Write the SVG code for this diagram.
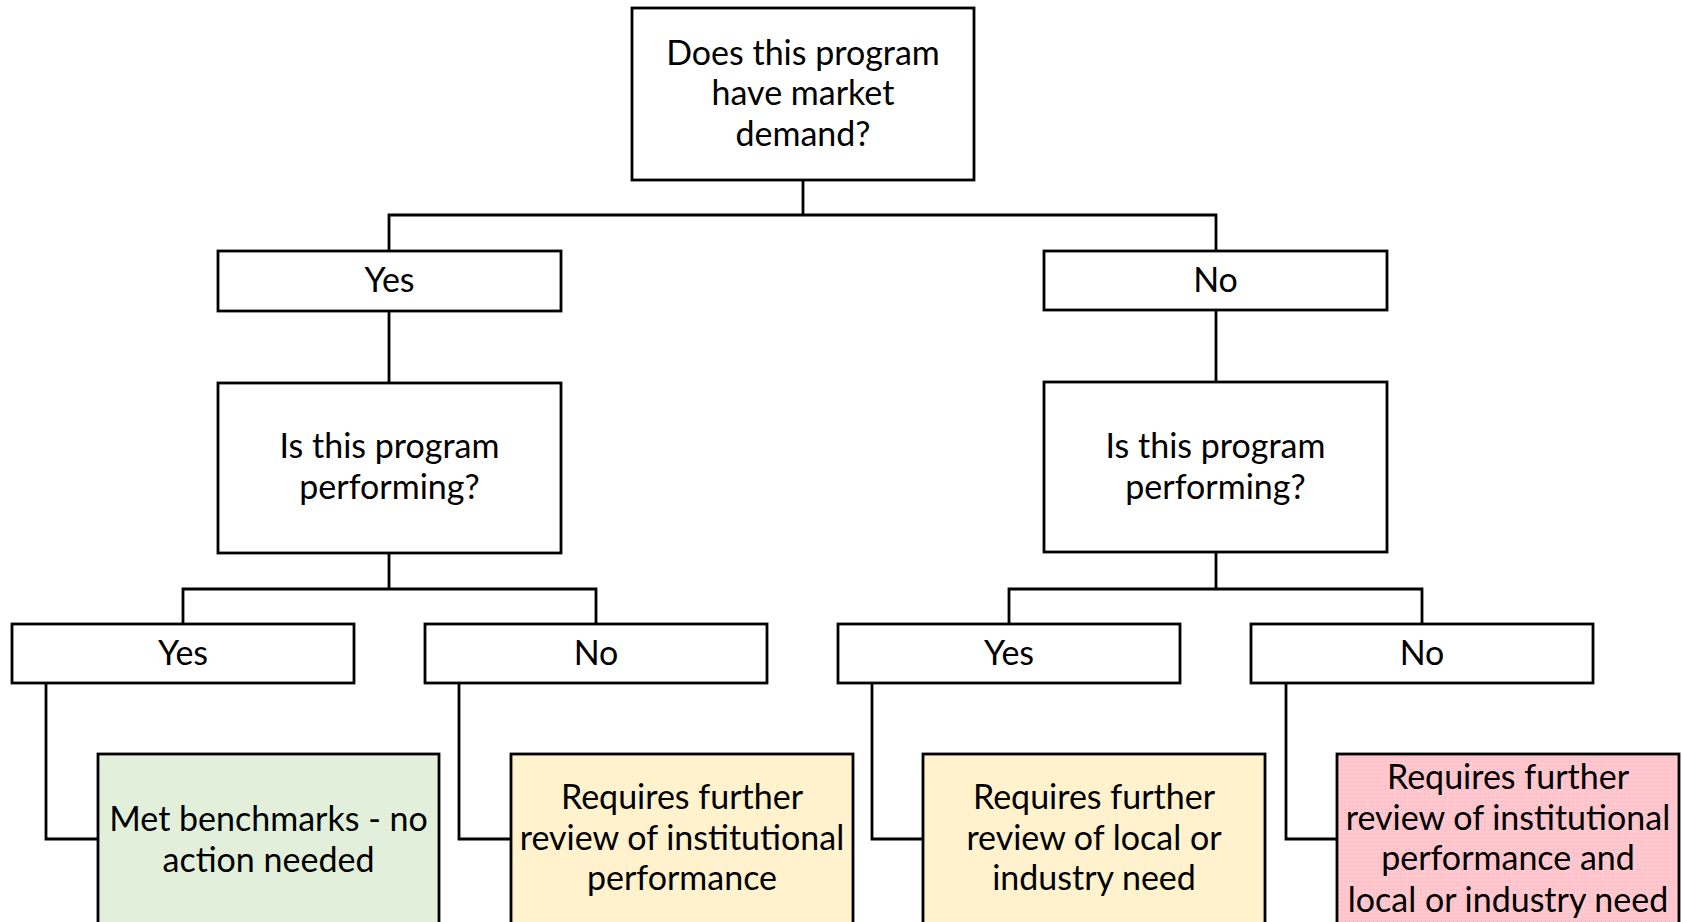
<svg xmlns="http://www.w3.org/2000/svg" width="1682" height="922" viewBox="0 0 1682 922">
<style>
  .box { stroke: #000; stroke-width: 2.8; fill: #fff; }
  .green { fill: #E2EFDA; }
  .yellow { fill: #FFF2CC; }
  .pink { fill: url(#dots); }
  .conn { stroke: #000; stroke-width: 2.8; fill: none; }
  text { font-family: Lato, "Liberation Sans", sans-serif; font-size: 34px; fill: #000; text-anchor: middle; }
</style>
<defs>
  <pattern id="dots" width="4" height="4" patternUnits="userSpaceOnUse">
    <rect width="4" height="4" fill="#FFC7CE"/>
    <rect x="1" y="1" width="1" height="1" fill="#FFA9B4"/>
  </pattern>
</defs>
<rect width="1682" height="922" fill="#fff"/>
<g id="connectors">
  <path class="conn" d="M803 180 V215 M389 251 V215 H1216 V251"/>
  <path class="conn" d="M389 311 V383 M1216 310 V382"/>
  <path class="conn" d="M389 553 V589 M183 624 V589 H596 V624"/>
  <path class="conn" d="M1216 552 V589 M1009 624 V589 H1422 V624"/>
  <path class="conn" d="M46 683 V839 H98"/>
  <path class="conn" d="M459 683 V839 H511"/>
  <path class="conn" d="M872 683 V839 H923"/>
  <path class="conn" d="M1286 683 V839 H1337"/>
</g>
<g id="n-root">
  <rect class="box" x="632" y="8" width="342" height="172"/>
  <text x="803" y="65">Does this program</text>
  <text x="803" y="105">have market</text>
  <text x="803" y="146">demand?</text>
</g>
<g id="n-yes1">
  <rect class="box" x="218" y="251" width="343" height="60"/>
  <text x="389.5" y="292">Yes</text>
</g>
<g id="n-no1">
  <rect class="box" x="1044" y="251" width="343" height="59"/>
  <text x="1215.5" y="292">No</text>
</g>
<g id="n-q-left">
  <rect class="box" x="218" y="383" width="343" height="170"/>
  <text x="389.5" y="458">Is this program</text>
  <text x="389.5" y="499">performing?</text>
</g>
<g id="n-q-right">
  <rect class="box" x="1044" y="382" width="343" height="170"/>
  <text x="1215.5" y="458">Is this program</text>
  <text x="1215.5" y="499">performing?</text>
</g>
<g id="n-yes2a">
  <rect class="box" x="12" y="624" width="342" height="59"/>
  <text x="183" y="665">Yes</text>
</g>
<g id="n-no2a">
  <rect class="box" x="425" y="624" width="342" height="59"/>
  <text x="596" y="665">No</text>
</g>
<g id="n-yes2b">
  <rect class="box" x="838" y="624" width="342" height="59"/>
  <text x="1009" y="665">Yes</text>
</g>
<g id="n-no2b">
  <rect class="box" x="1251" y="624" width="342" height="59"/>
  <text x="1422" y="665">No</text>
</g>
<g id="n-res1">
  <rect class="box green" x="98" y="754" width="341" height="180"/>
  <text x="268.5" y="831">Met benchmarks - no</text>
  <text x="268.5" y="872">action needed</text>
</g>
<g id="n-res2">
  <rect class="box yellow" x="511" y="754" width="342" height="180"/>
  <text x="682" y="809">Requires further</text>
  <text x="682" y="850">review of institutional</text>
  <text x="682" y="890">performance</text>
</g>
<g id="n-res3">
  <rect class="box yellow" x="923" y="754" width="342" height="180"/>
  <text x="1094" y="809">Requires further</text>
  <text x="1094" y="850">review of local or</text>
  <text x="1094" y="890">industry need</text>
</g>
<g id="n-res4">
  <rect class="box pink" x="1337" y="754" width="342" height="180"/>
  <text x="1508" y="789">Requires further</text>
  <text x="1508" y="830">review of institutional</text>
  <text x="1508" y="870">performance and</text>
  <text x="1508" y="912">local or industry need</text>
</g>
</svg>
